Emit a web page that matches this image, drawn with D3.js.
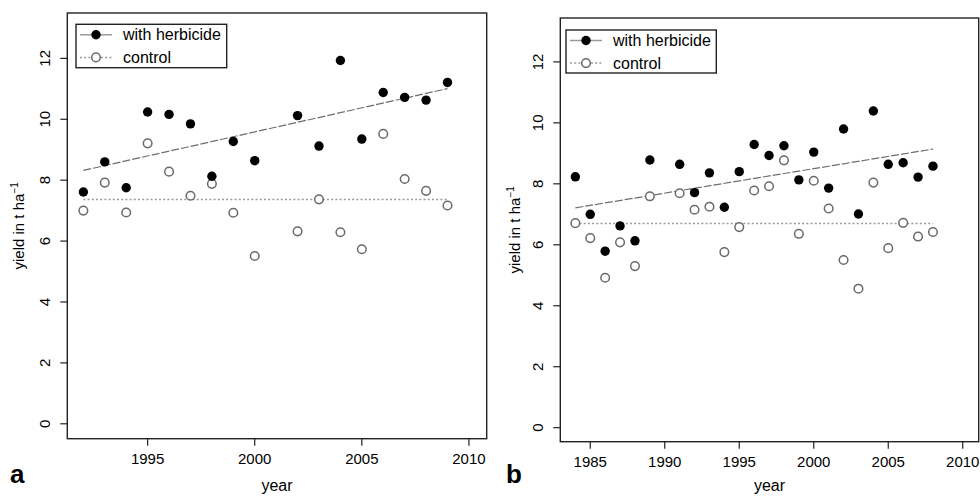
<!DOCTYPE html>
<html>
<head>
<meta charset="utf-8">
<script src="https://cdn.jsdelivr.net/npm/d3@7"></script>
<style>
body { margin: 0; background: #fff; }
svg { display: block; font-family: "Liberation Sans", Arial, sans-serif; }
</style>
</head>
<body>
<div id="chart"></div>
<script>
// panel a
var yearsA = [1992,1993,1994,1995,1996,1997,1998,1999,2000,2002,2003,2004,2005,2006,2007,2008,2009];
var herbA  = [7.61,8.60,7.75,10.24,10.16,9.85,8.13,9.27,8.64,10.12,9.12,11.93,9.35,10.88,10.72,10.63,11.21];
var ctrlA  = [7.00,7.92,6.94,9.21,8.28,7.49,7.88,6.93,5.51,6.32,7.37,6.29,5.73,9.52,8.04,7.65,7.17];
var xTicksA = [1995,2000,2005,2010];

// panel b
var yearsB = [1984,1985,1986,1987,1988,1989,1991,1992,1993,1994,1995,1996,1997,1998,1999,2000,2001,2002,2003,2004,2005,2006,2007,2008];
var herbB  = [8.23,7.00,5.79,6.62,6.13,8.78,8.64,7.71,8.36,7.23,8.40,9.29,8.93,9.25,8.13,9.04,7.86,9.80,7.01,10.39,8.64,8.69,8.22,8.58];
var ctrlB  = [6.71,6.22,4.92,6.08,5.30,7.59,7.69,7.15,7.25,5.76,6.58,7.78,7.92,8.77,6.36,8.10,7.19,5.50,4.56,8.04,5.89,6.72,6.27,6.42];
var xTicksB = [1985,1990,1995,2000,2005,2010];

var yTicks = [0,2,4,6,8,10,12];
var legendLabels = ["with herbicide", "control"];

var svg = d3.select("#chart").append("svg").attr("width", 980).attr("height", 497);

function fit(xs, ys) {
  var mx = d3.mean(xs), my = d3.mean(ys);
  var sxy = d3.sum(xs, function(d, i){ return (d - mx) * (ys[i] - my); });
  var sxx = d3.sum(xs, function(d){ return (d - mx) * (d - mx); });
  var b = sxy / sxx;
  return function(x){ return my + b * (x - mx); };
}

function panel(p) {
  var x = d3.scaleLinear().domain(p.xdom).range([p.left, p.right]);
  var y = d3.scaleLinear().domain(p.ydom).range([p.bottom, p.top]);
  var g = svg.append("g");

  // fitted line for herbicide
  var f = fit(p.years, p.herb);
  var x0 = d3.min(p.years), x1 = d3.max(p.years);
  g.append("line")
    .attr("x1", x(x0)).attr("y1", y(f(x0)))
    .attr("x2", x(x1)).attr("y2", y(f(x1)))
    .attr("stroke", "#6e6e6e").attr("stroke-width", 1.2)
    .attr("stroke-dasharray", "8,2");

  // control mean
  var m = d3.mean(p.ctrl);
  g.append("line")
    .attr("x1", x(x0)).attr("y1", y(m))
    .attr("x2", x(x1)).attr("y2", y(m))
    .attr("stroke", "#9a9a9a").attr("stroke-width", 1.6)
    .attr("stroke-dasharray", "2,2.2");

  g.selectAll(".ctrl").data(p.years).enter().append("circle")
    .attr("cx", function(d){ return x(d); })
    .attr("cy", function(d, i){ return y(p.ctrl[i]); })
    .attr("r", 4.3)
    .attr("fill", "#fff").attr("stroke", "#6a6a6a").attr("stroke-width", 1.5);

  g.selectAll(".herb").data(p.years).enter().append("circle")
    .attr("cx", function(d){ return x(d); })
    .attr("cy", function(d, i){ return y(p.herb[i]); })
    .attr("r", 4.7)
    .attr("fill", "#000");

  // box
  g.append("rect")
    .attr("x", p.left).attr("y", p.top)
    .attr("width", p.right - p.left).attr("height", p.bottom - p.top)
    .attr("fill", "none").attr("stroke", "#222").attr("stroke-width", 1.4);

  // x ticks
  p.xticks.forEach(function(t){
    g.append("line").attr("x1", x(t)).attr("x2", x(t))
      .attr("y1", p.bottom).attr("y2", p.bottom + 7)
      .attr("stroke", "#222").attr("stroke-width", 1.2);
    g.append("text").attr("x", x(t)).attr("y", p.bottom + 25)
      .attr("text-anchor", "middle").attr("font-size", 15).text(t);
  });

  // y ticks
  yTicks.forEach(function(t){
    g.append("line").attr("x1", p.left - 7).attr("x2", p.left)
      .attr("y1", y(t)).attr("y2", y(t))
      .attr("stroke", "#222").attr("stroke-width", 1.2);
    g.append("text")
      .attr("transform", "translate(" + (p.left - 17) + "," + y(t) + ") rotate(-90)")
      .attr("text-anchor", "middle").attr("font-size", 15).text(t);
  });

  // axis titles
  g.append("text").attr("x", (p.left + p.right) / 2).attr("y", 491)
    .attr("text-anchor", "middle").attr("font-size", 16).text("year");
  var yl = g.append("text")
    .attr("transform", "translate(" + p.ylabX + "," + ((p.top + p.bottom) / 2) + ") rotate(-90)")
    .attr("text-anchor", "middle").attr("font-size", 15);
  yl.append("tspan").text("yield in t ha");
  yl.append("tspan").attr("font-size", 10).attr("dy", -6).text("\u22121");

  g.append("text").attr("x", p.tagX).attr("y", 483)
    .attr("font-size", 26).attr("font-weight", "bold").text(p.tag);

  // legend
  var L = p.legend;
  g.append("rect").attr("x", L.x).attr("y", L.y).attr("width", L.w).attr("height", L.h)
    .attr("fill", "#fff").attr("stroke", "#222").attr("stroke-width", 1.4);
  legendLabels.forEach(function(lbl, i){
    var ry = L.y + 10.5 + i * 22.6;
    g.append("line").attr("x1", L.x + 4).attr("x2", L.x + 36)
      .attr("y1", ry).attr("y2", ry)
      .attr("stroke", "#9a9a9a").attr("stroke-width", 1.5)
      .attr("stroke-dasharray", i === 0 ? null : "2,2.2");
    g.append("circle").attr("cx", L.x + 20).attr("cy", ry)
      .attr("r", i === 0 ? 4.7 : 4.3)
      .attr("fill", i === 0 ? "#000" : "#fff")
      .attr("stroke", i === 0 ? "none" : "#6a6a6a").attr("stroke-width", 1.5);
    g.append("text").attr("x", L.x + 47).attr("y", ry + 5.5)
      .attr("font-size", 16).text(lbl);
  });
}

panel({
  years: yearsA, herb: herbA, ctrl: ctrlA, xticks: xTicksA,
  xdom: [1991.25, 2010.83], ydom: [-0.49, 13.49],
  left: 67.3, right: 486.7, top: 13, bottom: 438.7,
  ylabX: 24, tag: "a", tagX: 10,
  legend: { x: 76, y: 24.3, w: 150.7, h: 43.4 }
});

panel({
  years: yearsB, herb: herbB, ctrl: ctrlB, xticks: xTicksB,
  xdom: [1982.99, 2011.07], ydom: [-0.46, 13.44],
  left: 560.3, right: 978.7, top: 18, bottom: 441.7,
  ylabX: 520, tag: "b", tagX: 506,
  legend: { x: 566, y: 30, w: 150.3, h: 43 }
});
</script>
</body>
</html>
